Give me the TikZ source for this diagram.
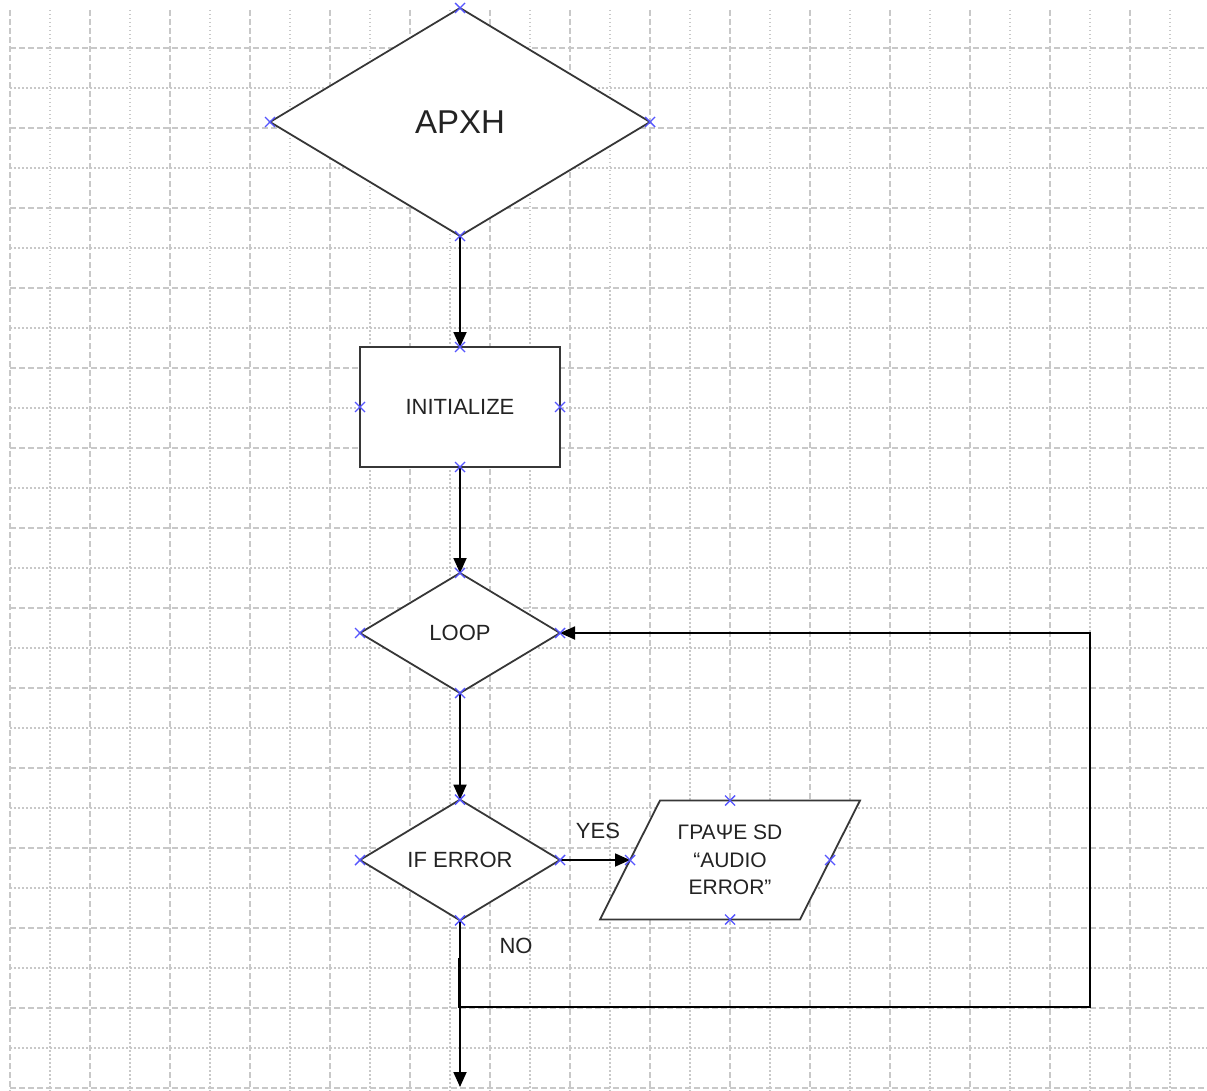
\documentclass[tikz,border=0pt]{standalone}
\usepackage{fontspec}
\setmainfont{Liberation Sans}
\usetikzlibrary{shapes.geometric,arrows.meta}
\definecolor{gridc}{RGB}{200,200,200}
\definecolor{edgec}{RGB}{55,55,55}
\definecolor{mkc}{RGB}{85,85,255}
\definecolor{txtc}{RGB}{35,35,35}
\begin{document}
\begin{tikzpicture}[x=1pt,y=-1pt,
  gridmajor/.style={draw=gridc,line width=1.3pt,dash pattern=on 6pt off 3pt},
  gridminor/.style={draw=gridc,line width=1.3pt,dash pattern=on 1.5pt off 2.5pt},
  shapeline/.style={draw=edgec,line width=1.8pt,fill=white},
  dia/.style={shapeline,diamond,inner sep=0pt,outer sep=0pt,text=txtc,font=\fontsize{22}{26}\selectfont},
  procbox/.style={shapeline,rectangle,inner sep=0pt,outer sep=0pt,minimum width=200pt,minimum height=120pt,text=txtc,font=\fontsize{22}{26}\selectfont},
  lbl/.style={inner sep=0pt,text=txtc,font=\fontsize{22}{26}\selectfont},
  conn/.style={draw=black,line width=1.8pt,-{Triangle[length=15pt,width=13pt]}},
  xmark/.style={draw=mkc,line width=1.4pt}]
\useasboundingbox (0,0) rectangle (1207,1091);
\fill[white] (0,0) rectangle (1207,1091);
% grid
\foreach \x in {10,90,...,1130} \draw[gridmajor] (\x,10) -- (\x,1091);
\foreach \x in {50,130,...,1170} \draw[gridminor] (\x,10) -- (\x,1091);
\foreach \y in {48,128,...,1088} \draw[gridmajor] (10,\y) -- (1207,\y);
\foreach \y in {88,168,...,1048} \draw[gridminor] (10,\y) -- (1207,\y);
% parallelogram outline
\coordinate (wrc) at (730,860);
\draw[shapeline] ([shift={(-130,59.5)}]wrc) -- ([shift={(-70,-59.5)}]wrc)
  -- ([shift={(130,-59.5)}]wrc) -- ([shift={(70,59.5)}]wrc) -- cycle;
% nodes
\node[dia,minimum width=380pt,minimum height=228pt,font=\fontsize{33}{38}\selectfont] (start) at (460,122) {APXH};
\node[procbox] (init) at (460,407) {INITIALIZE};
\node[dia,minimum width=200pt,minimum height=120pt] (loop) at (460,633) {LOOP};
\node[dia,minimum width=200pt,minimum height=120pt] (iferr) at (460,860) {IF ERROR};
\node[align=center,inner sep=0pt,outer sep=0pt,minimum width=200pt,minimum height=119pt,text=txtc,
  font=\fontsize{21}{27.5}\selectfont] (wr) at (wrc) {ΓΡΑΨΕ SD\\“AUDIO\\ERROR”};
\node[lbl] (yes) at (598,831) {YES};
\node[lbl] (no) at (516,946) {NO};
% connectors
\draw[conn] (start.south) -- (init.north);
\draw[conn] (init.south) -- (loop.north);
\draw[conn] (loop.south) -- (iferr.north);
\draw[conn] (iferr.east) -- (wr.west);
\coordinate (endp) at (460,1087);
\draw[conn] (iferr.south) -- (endp);
\coordinate (lp) at (459,958);
\coordinate (c1) at (1090,1007);
\draw[conn] (lp) |- (c1) |- (loop.east);
% connection point markers
\foreach \p in {start.north,start.south,start.east,start.west,
                init.north,init.south,init.east,init.west,
                loop.north,loop.south,loop.east,loop.west,
                iferr.north,iferr.south,iferr.east,iferr.west,
                wr.north,wr.south,wr.east,wr.west}
  \draw[xmark] ([shift={(-5pt,-5pt)}]\p) -- ([shift={(5pt,5pt)}]\p)
               ([shift={(-5pt,5pt)}]\p) -- ([shift={(5pt,-5pt)}]\p);
\end{tikzpicture}
\end{document}
